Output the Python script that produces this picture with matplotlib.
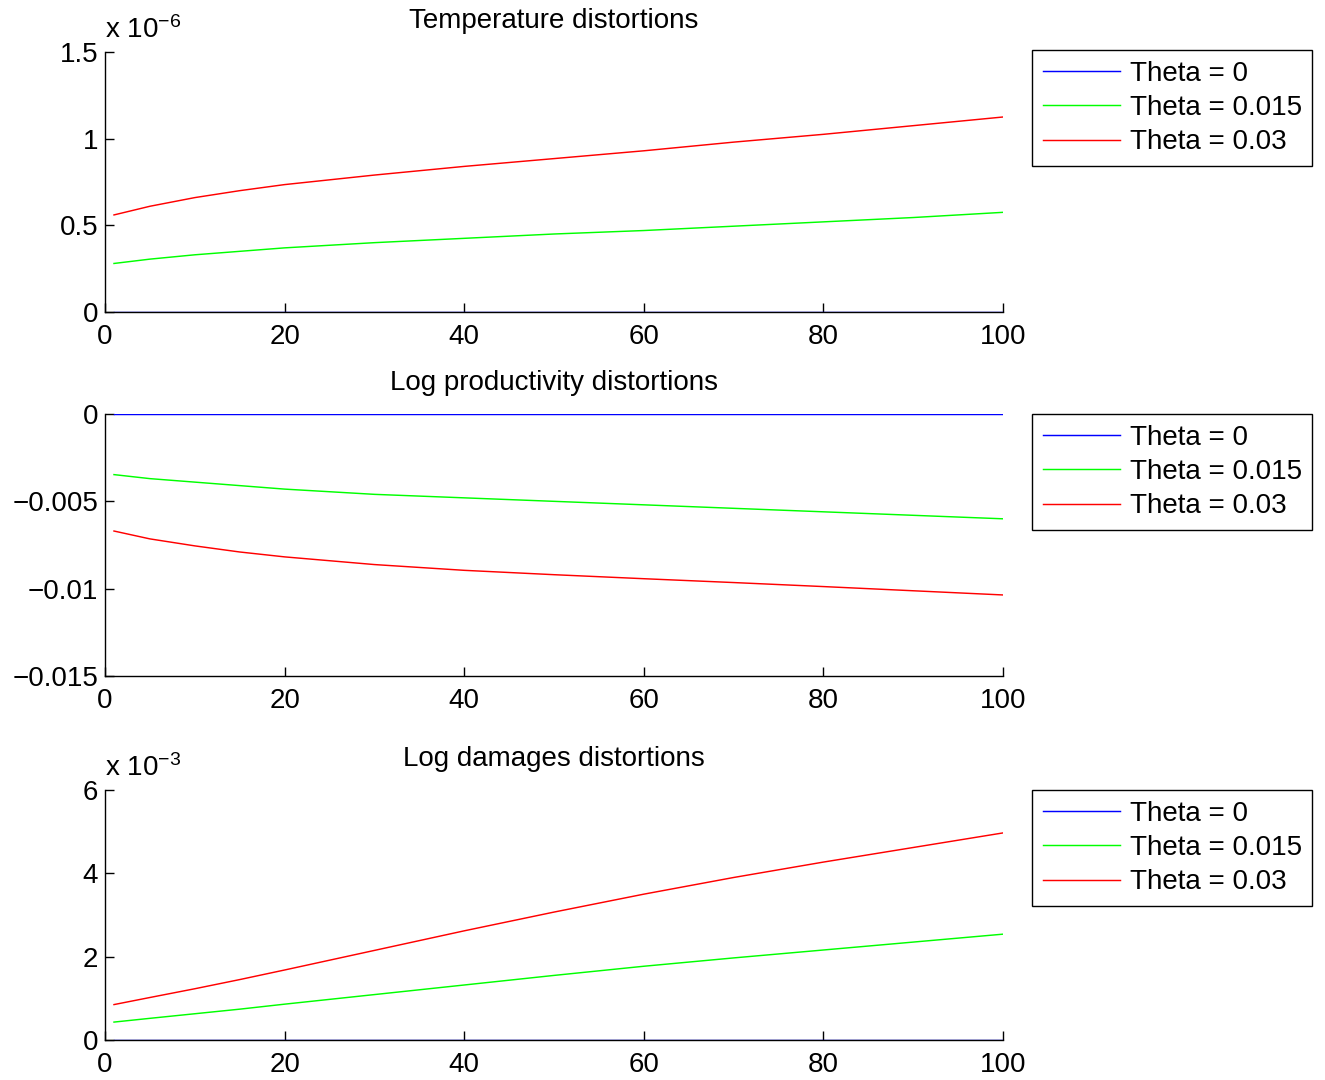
import matplotlib.pyplot as plt
from matplotlib.ticker import FuncFormatter

plt.rcParams["font.family"] = ["Liberation Sans", "DejaVu Sans"]
plt.rcParams["mathtext.fontset"] = "custom"
plt.rcParams["mathtext.rm"] = "Liberation Sans"
plt.rcParams["mathtext.it"] = "Liberation Sans"

periods = [1, 5, 10, 15, 20, 30, 40, 50, 60, 70, 80, 90, 100]

legend_labels = ["Theta = 0", "Theta = 0.015", "Theta = 0.03"]
line_colors = ["#0000ff", "#00ff00", "#ff0000"]

# temperature distortions (units of 1e-6)
temp_theta0 = [0, 0, 0, 0, 0, 0, 0, 0, 0, 0, 0, 0, 0]
temp_theta015 = [0.28, 0.305, 0.33, 0.35, 0.37, 0.40, 0.425, 0.45, 0.47, 0.495, 0.52, 0.545, 0.575]
temp_theta03 = [0.56, 0.61, 0.66, 0.70, 0.735, 0.79, 0.84, 0.885, 0.93, 0.98, 1.025, 1.075, 1.125]

# log productivity distortions
prod_theta0 = [0, 0, 0, 0, 0, 0, 0, 0, 0, 0, 0, 0, 0]
prod_theta015 = [-0.00347, -0.0037, -0.0039, -0.0041, -0.0043, -0.0046, -0.0048,
                 -0.0050, -0.0052, -0.0054, -0.0056, -0.0058, -0.0060]
prod_theta03 = [-0.0067, -0.00715, -0.00755, -0.0079, -0.00818, -0.00862, -0.00895,
                -0.0092, -0.00943, -0.00965, -0.00988, -0.01012, -0.01036]

# log damages distortions (units of 1e-3)
dmg_theta0 = [0, 0, 0, 0, 0, 0, 0, 0, 0, 0, 0, 0, 0]
dmg_theta015 = [0.43, 0.52, 0.63, 0.74, 0.86, 1.09, 1.32, 1.55, 1.77, 1.97, 2.16, 2.35, 2.54]
dmg_theta03 = [0.85, 1.02, 1.23, 1.45, 1.68, 2.15, 2.62, 3.07, 3.5, 3.9, 4.27, 4.62, 4.97]

W, H = 1325, 1080
FS = 20


def fmt_g(v, pos):
    return ("%g" % round(v, 6)).replace("-", "\u2212")


panels = [
    # title, series, ylim, yticks, exponent, (top_px, bottom_px), legend top px
    ("Temperature distortions", [temp_theta0, temp_theta015, temp_theta03],
     (0, 1.5), [0, 0.5, 1, 1.5], "-6", (52, 312), 50),
    ("Log productivity distortions", [prod_theta0, prod_theta015, prod_theta03],
     (-0.015, 0), [-0.015, -0.01, -0.005, 0], None, (414, 676), 414),
    ("Log damages distortions", [dmg_theta0, dmg_theta015, dmg_theta03],
     (0, 6), [0, 2, 4, 6], "-3", (790, 1040), 790),
]

fig = plt.figure(figsize=(W / 100, H / 100), dpi=100)

for title, series, ylim, yticks, expo, (top, bot), leg_top in panels:
    ax = fig.add_axes([105 / W, 1 - bot / H, (1003 - 105) / W, (bot - top) / H])
    for vals, col, lab in zip(series, line_colors, legend_labels):
        ax.plot(periods, vals, color=col, lw=1.05, label=lab)

    ax.set_xlim(0, 100)
    ax.set_ylim(*ylim)
    ax.set_xticks([0, 20, 40, 60, 80, 100])
    ax.set_yticks(yticks)
    ax.yaxis.set_major_formatter(FuncFormatter(fmt_g))
    ax.xaxis.set_major_formatter(FuncFormatter(fmt_g))
    ax.tick_params(direction="in", length=6.5, width=1.0, labelsize=FS,
                   colors="black")
    ax.tick_params(axis="x", pad=9)
    ax.tick_params(axis="y", pad=5)
    for side in ["top", "right"]:
        ax.spines[side].set_visible(False)
    for side in ["left", "bottom"]:
        ax.spines[side].set_linewidth(1.0)
    ax.set_title(title, fontsize=FS, pad=17)

    if expo is not None:
        ax.text(0.0, 1.03, "x 10$^{\u2212%s}$" % expo[1:], transform=ax.transAxes,
                fontsize=FS, ha="left", va="bottom")

    leg = ax.legend(loc="upper left", bbox_to_anchor=(1032 / W, 1 - leg_top / H),
                    bbox_transform=fig.transFigure, borderaxespad=0,
                    fontsize=FS, frameon=True, fancybox=False, shadow=False,
                    handlelength=2.8, handletextpad=0.33, labelspacing=0.3,
                    borderpad=0.38)
    frame = leg.get_frame()
    frame.set_edgecolor("black")
    frame.set_linewidth(1.0)
    frame.set_alpha(1)

fig.savefig("out.png", dpi=100)
